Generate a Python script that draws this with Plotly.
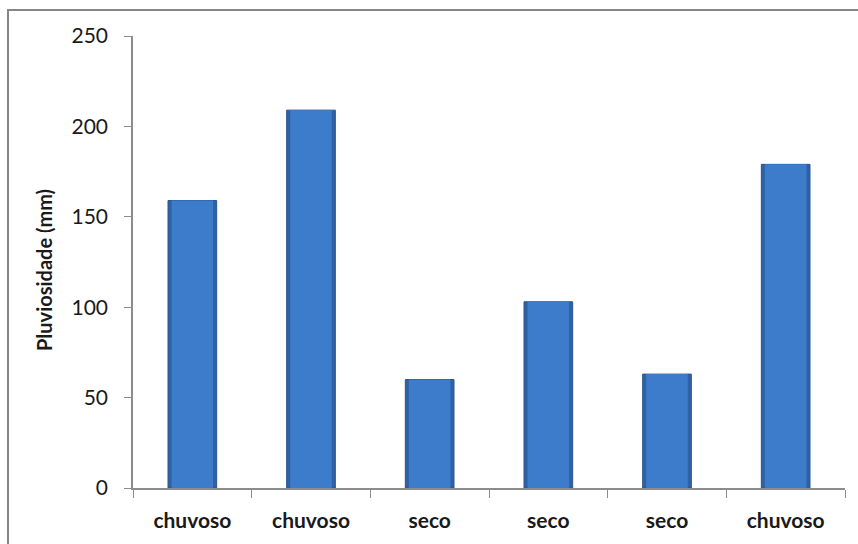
import plotly.graph_objects as go

# Monthly rainfall by season
categories = ["chuvoso", "chuvoso", "seco", "seco", "seco", "chuvoso"]
rainfall_mm = [159, 209, 60, 103, 63, 179]
y_ticks = [0, 50, 100, 150, 200, 250]

W, H = 858, 544
ML, MR, MT, MB = 133, 13, 36, 56
PW, PH = W - ML - MR, H - MT - MB

positions = list(range(len(categories)))


def px_x(px):
    return (px - ML) / PW


def px_y(py):
    return (H - MB - py) / PH


fig = go.Figure()

# outer bar: darker rim
fig.add_trace(go.Bar(
    x=positions, y=rainfall_mm, width=0.41,
    marker=dict(color="#2F62A5", line=dict(color="#2A5590", width=1)),
    hoverinfo="skip", showlegend=False,
))
# inner face: lighter body
fig.add_trace(go.Bar(
    x=positions, y=rainfall_mm, width=0.35,
    marker=dict(color="#3D7CCB", line=dict(width=0)),
    hovertemplate="%{y} mm<extra></extra>", showlegend=False,
))

font_family = "Lato, 'Open Sans', sans-serif"
frame = dict(color="#868686", width=2)

fig.update_layout(
    width=W, height=H,
    margin=dict(l=ML, r=MR, t=MT, b=MB, autoexpand=False),
    paper_bgcolor="white", plot_bgcolor="white",
    barmode="overlay",
    xaxis=dict(
        range=[-0.5, len(categories) - 0.5],
        tickmode="array", tickvals=positions, ticktext=categories,
        ticks="", showgrid=False, zeroline=False,
        showline=True, linecolor="#8c8c8c", linewidth=1.5,
        tickfont=dict(family=font_family, size=21, color="#1a1a1a", weight="bold"),
        ticklabelstandoff=13,
        minor=dict(tickvals=[p - 0.5 for p in positions] + [len(categories) - 0.5],
                   ticks="outside", ticklen=8, tickwidth=1.2, tickcolor="#8c8c8c", showgrid=False),
    ),
    yaxis=dict(
        range=[0, 250], tickmode="array", tickvals=y_ticks,
        ticks="outside", ticklen=7, tickwidth=1.2, tickcolor="#8c8c8c",
        showgrid=False, zeroline=False,
        showline=True, linecolor="#8c8c8c", linewidth=1.5,
        tickfont=dict(family=font_family, size=21, color="#1a1a1a"),
        ticklabelstandoff=12,
    ),
    annotations=[dict(
        text="<b>Pluviosidade (mm)</b>", textangle=-90,
        xref="paper", yref="paper",
        x=px_x(44), y=px_y(270),
        xanchor="center", yanchor="middle", showarrow=False,
        font=dict(family=font_family, size=20, color="#1a1a1a"),
    )],
    shapes=[
        # chart frame: top and left edges
        dict(type="line", xref="paper", yref="paper",
             x0=px_x(7), x1=px_x(W), y0=px_y(10), y1=px_y(10), line=frame),
        dict(type="line", xref="paper", yref="paper",
             x0=px_x(8), x1=px_x(8), y0=px_y(10), y1=px_y(H), line=frame),
    ],
)

fig.write_html("out.html")
